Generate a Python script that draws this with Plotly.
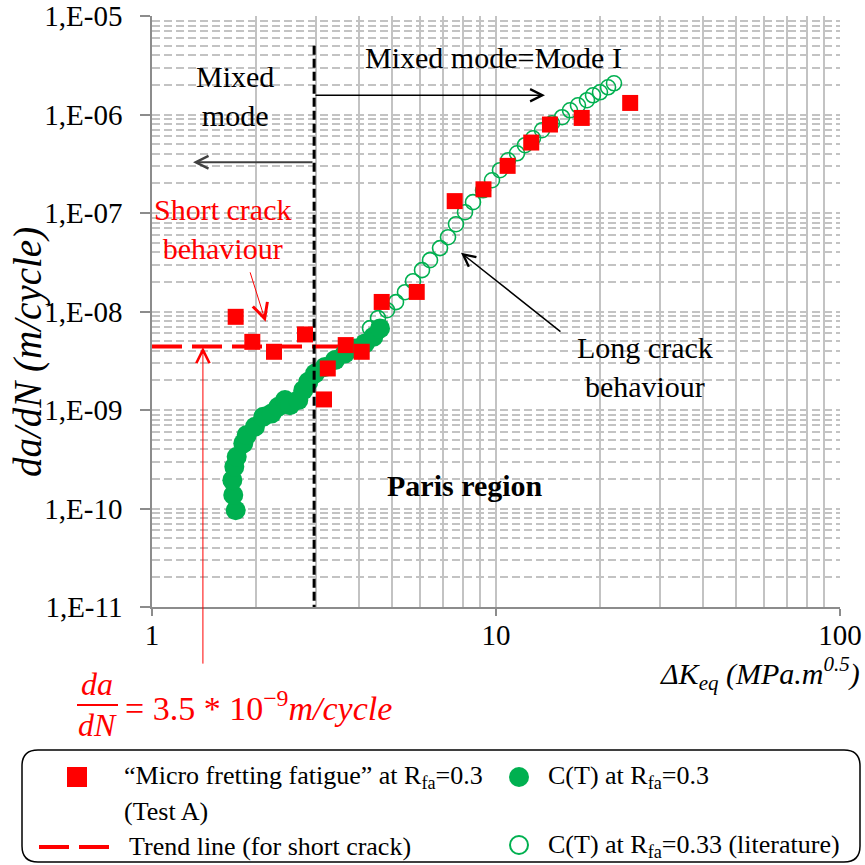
import math
import plotly.graph_objects as go

# ---------------- data ----------------
# "Micro fretting fatigue" at Rfa=0.3 (Test A)
mff_dk = [1.751, 1.957, 2.263, 2.785, 3.657, 4.07, 3.243, 3.162, 4.653, 5.883,
          7.585, 9.197, 10.81, 12.66, 14.35, 17.75, 24.55]
mff_dadn = [8.83e-9, 4.92e-9, 3.90e-9, 5.85e-9, 4.56e-9, 3.90e-9, 2.64e-9, 1.28e-9,
            1.25e-8, 1.58e-8, 1.32e-7, 1.74e-7, 3.01e-7, 5.19e-7, 7.91e-7, 9.23e-7, 1.31e-6]

# C(T) at Rfa=0.3
ct_dk = [1.751, 1.723, 1.712, 1.735, 1.763, 1.842, 1.885, 1.992, 2.106, 2.228, 2.329, 2.436,
         2.518, 2.663, 2.753, 2.847, 2.978, 3.184, 3.404, 3.639, 3.891, 4.161, 4.399, 4.601]
ct_dadn = [9.6e-11, 1.37e-10, 1.94e-10, 2.65e-10, 3.35e-10, 4.58e-10, 5.56e-10, 6.76e-10,
           8.53e-10, 9.24e-10, 1.08e-9, 1.26e-9, 1.12e-9, 1.26e-9, 1.59e-9, 1.93e-9, 2.35e-9,
           2.74e-9, 3.21e-9, 3.75e-9, 4.22e-9, 4.74e-9, 5.53e-9, 6.73e-9]

# C(T) at Rfa=0.33 (literature)
lit_dk = [4.302, 4.539, 4.822, 5.121, 5.438, 5.738, 6.094, 6.430, 6.875, 7.253, 7.651, 8.126,
          8.573, 9.168, 9.737, 10.27, 10.84, 11.51, 12.14, 12.81, 13.61, 14.55, 15.56, 16.41,
          17.31, 18.39, 19.14, 20.06, 21.17, 22.03]
lit_dadn = [6.78e-9, 8.57e-9, 1.03e-8, 1.245e-8, 1.57e-8, 2.03e-8, 2.63e-8, 3.32e-8, 4.40e-8,
            5.68e-8, 7.70e-8, 1.019e-7, 1.288e-7, 1.70e-7, 2.15e-7, 2.72e-7, 3.43e-7, 4.04e-7,
            4.88e-7, 5.74e-7, 6.92e-7, 8.15e-7, 9.38e-7, 1.104e-6, 1.241e-6, 1.396e-6,
            1.568e-6, 1.68e-6, 1.89e-6, 2.075e-6]

# Trend line (for short crack)
trend_dk = [1.0, 4.0]
trend_dadn = [4.4e-9, 4.4e-9]

# Mixed mode / Mode I boundary
boundary_dk = [2.96, 2.96]
boundary_dadn = [5e-6, 1e-11]

y_tickvals = [1e-11, 1e-10, 1e-9, 1e-8, 1e-7, 1e-6, 1e-5]
y_ticktext = ["1,E-11", "1,E-10", "1,E-09", "1,E-08", "1,E-07", "1,E-06", "1,E-05"]
x_tickvals = [1, 10, 100]
x_ticktext = ["1", "10", "100"]

# ---------------- layout constants ----------------
W, H = 865, 865
PLOT_L, PLOT_R, PLOT_T, PLOT_B = 152, 840, 16, 607   # page pixels
L, T = PLOT_L, PLOT_T
R, B = W - PLOT_R, H - PLOT_B
PW, PH = PLOT_R - PLOT_L, PLOT_B - PLOT_T
FONT = "Liberation Serif"
RED = "#ff0000"
GREEN = "#00b050"
GRID = "#c3c3c3"
AXIS = "#8c8c8c"


def px(x):
    return (x - PLOT_L) / PW


def py(y):
    return (PLOT_B - y) / PH


fig = go.Figure()

fig.add_trace(go.Scatter(x=trend_dk, y=trend_dadn, mode="lines",
                         line=dict(color=RED, width=4, dash="30px,10px"), showlegend=False))
fig.add_trace(go.Scatter(x=lit_dk, y=lit_dadn, mode="markers",
                         marker=dict(symbol="circle-open", size=15, color=GREEN,
                                     line=dict(width=1.6, color=GREEN)), showlegend=False))
fig.add_trace(go.Scatter(x=ct_dk, y=ct_dadn, mode="markers",
                         marker=dict(symbol="circle", size=20, color=GREEN), showlegend=False))
fig.add_trace(go.Scatter(x=boundary_dk, y=boundary_dadn, mode="lines",
                         line=dict(color="black", width=3, dash="9px,4px"), showlegend=False))
fig.add_trace(go.Scatter(x=mff_dk, y=mff_dadn, mode="markers",
                         marker=dict(symbol="square", size=16, color=RED), showlegend=False))

shapes = []
annotations = []


def white_box(x0, y0, x1, y1):
    shapes.append(dict(type="rect", xref="paper", yref="paper", x0=px(x0), x1=px(x1),
                       y0=py(y1), y1=py(y0), fillcolor="white", line=dict(width=0),
                       layer="between"))


def text(xp, yp, s, size=30, color="black", xanchor="center", **kw):
    annotations.append(dict(xref="paper", yref="paper", x=px(xp), y=py(yp), text=s,
                            showarrow=False, xanchor=xanchor, yanchor="middle",
                            font=dict(family=FONT, size=size, color=color), **kw))


# text boxes
white_box(170, 53, 300, 137)
text(235, 96, "Mixed<br>mode")
white_box(347, 33, 640, 80)
text(493, 57, "Mixed mode=Mode I")
white_box(153, 184, 305, 270)
text(222, 229, "Short crack<br>behaviour", color=RED)
white_box(563, 322, 737, 407)
text(645, 367, "Long crack<br>behaviour")
white_box(355, 460, 574, 507)
text(465, 485, "<b>Paris region</b>")


def arrow(hx, hy, dx, dy, color, width, size):
    annotations.append(dict(xref="x", yref="y", x=math.log10(hx), y=math.log10(hy),
                            ax=dx, ay=dy, axref="pixel", ayref="pixel", text="",
                            showarrow=True, arrowhead=5, arrowwidth=width,
                            arrowsize=size, arrowcolor=color, standoff=0))


arrow(1.316, 3.28e-7, 121, 0, "#404040", 2, 1.25)       # mixed mode  <-
arrow(13.88, 1.568e-6, -231, 0, "black", 1.5, 1.6)      # mode I      ->
arrow(7.91, 3.95e-8, 101, 80, "black", 1.5, 1.6)        # long crack
arrow(2.14, 7.85e-9, -16, -51, RED, 1, 3.0)             # short crack
arrow(1.406, 4.35e-9, 0, 318, RED, 1, 2.6)              # trend value

# axis titles
text(28, 352, "<i>da/dN (m/cycle)</i>", size=39, textangle=-90)
text(862, 673, "<i>ΔK<sub>eq</sub> (MPa.m<sup>0.5</sup>)</i>", size=30, xanchor="right")

# formula
text(97, 684, "<i>da</i>", size=32, color=RED)
text(97, 725, "<i>dN</i>", size=32, color=RED)
shapes.append(dict(type="line", xref="paper", yref="paper", x0=px(77), x1=px(118),
                   y0=py(705), y1=py(705), line=dict(color=RED, width=2)))
text(123, 706, "= 3.5 * 10<sup>−9</sup><i>m/cycle</i>", size=34, color=RED, xanchor="left")

# legend box (rounded)
x0, x1, y0, y1 = px(22), px(860), py(750), py(862)
rx, ry = 16 / PW, 16 / PH
path = (f"M {x0 + rx},{y0} L {x1 - rx},{y0} Q {x1},{y0} {x1},{y0 - ry} "
        f"L {x1},{y1 + ry} Q {x1},{y1} {x1 - rx},{y1} L {x0 + rx},{y1} "
        f"Q {x0},{y1} {x0},{y1 + ry} L {x0},{y0 - ry} Q {x0},{y0} {x0 + rx},{y0} Z")
shapes.append(dict(type="path", xref="paper", yref="paper", path=path,
                   line=dict(color="black", width=1.5), fillcolor="rgba(0,0,0,0)"))

# legend glyphs
shapes.append(dict(type="rect", xref="paper", yref="paper", x0=px(67), x1=px(87),
                   y0=py(787), y1=py(767), fillcolor=RED, line=dict(width=0)))
shapes.append(dict(type="line", xref="paper", yref="paper", x0=px(39), x1=px(109),
                   y0=py(847), y1=py(847), line=dict(color=RED, width=4, dash="30px,10px")))
shapes.append(dict(type="circle", xref="paper", yref="paper", x0=px(509), x1=px(529),
                   y0=py(787), y1=py(767), fillcolor=GREEN, line=dict(width=0)))
shapes.append(dict(type="circle", xref="paper", yref="paper", x0=px(510), x1=px(528),
                   y0=py(854), y1=py(836), fillcolor="white", line=dict(color=GREEN, width=2)))

text(122, 777, "“Micro fretting fatigue” at R<sub>fa</sub>=0.3", size=26, xanchor="left")
text(122, 811, "(Test A)", size=26, xanchor="left")
text(127, 846, "Trend line (for short crack)", size=26, xanchor="left")
text(546, 777, "C(T) at R<sub>fa</sub>=0.3", size=26, xanchor="left")
text(546, 846, "C(T) at R<sub>fa</sub>=0.33 (literature)", size=26, xanchor="left")

fig.update_layout(
    width=W, height=H,
    margin=dict(l=L, r=R, t=T, b=B, autoexpand=False),
    paper_bgcolor="white", plot_bgcolor="white",
    font=dict(family=FONT, size=29, color="black"),
    showlegend=False,
    hovermode=False,
    shapes=shapes,
    annotations=annotations,
    xaxis=dict(type="log", range=[0, 2], tickvals=x_tickvals, ticktext=x_ticktext,
               automargin=False, ticklabeloverflow="allow",
               showgrid=True, gridcolor=GRID, gridwidth=1.5,
               showline=True, linecolor=AXIS, linewidth=1.5,
               ticks="outside", ticklen=7, tickcolor=AXIS, tickwidth=1.5,
               ticklabelstandoff=-6, zeroline=False,
               minor=dict(dtick="D1", showgrid=True, gridcolor=GRID, gridwidth=1.5, ticks="")),
    yaxis=dict(type="log", range=[-11, -5], tickvals=y_tickvals, ticktext=y_ticktext,
               automargin=False, ticklabeloverflow="allow",
               showgrid=True, gridcolor=GRID, gridwidth=1.5, griddash="8px,4px",
               showline=True, linecolor=AXIS, linewidth=1.5,
               ticks="outside", ticklen=10, tickcolor=AXIS, tickwidth=1.5,
               ticklabelstandoff=12, zeroline=False,
               minor=dict(dtick="D1", showgrid=True, gridcolor=GRID, gridwidth=1.5,
                          griddash="8px,4px", ticks="")),
)

fig.write_html(
    "out.html",
    config={"displayModeBar": False},
    post_script="document.body.style.margin='0';document.body.style.overflow='hidden';",
)
